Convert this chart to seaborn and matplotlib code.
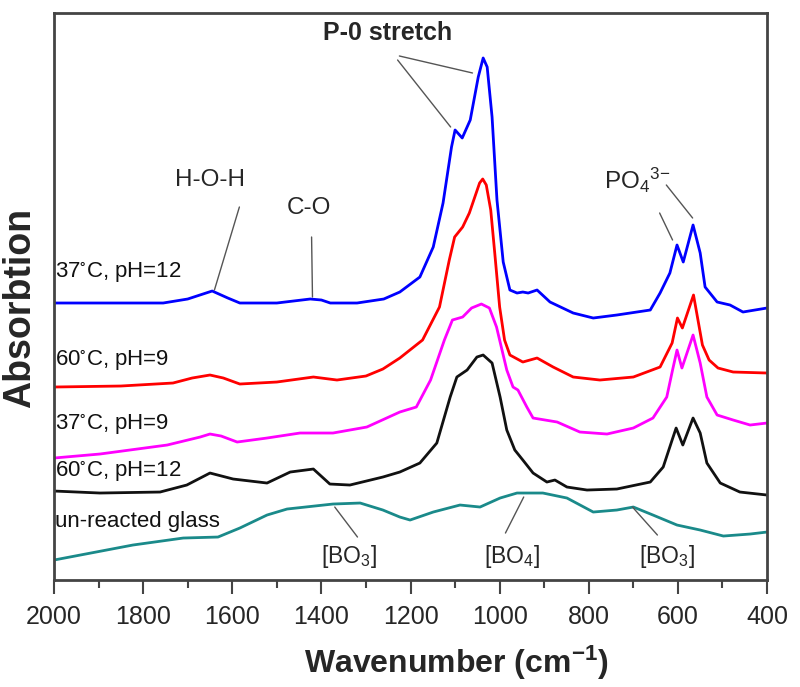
import matplotlib
matplotlib.use('Agg')
import matplotlib.pyplot as plt
import numpy as np
import pandas as pd
import seaborn as sns

# spectra (absorbance in arbitrary, already-offset units)
wn_37_12 = [2000, 1850, 1755, 1700, 1645, 1610, 1583, 1500, 1425, 1400, 1380, 1320, 1260, 1224, 1179, 1149,
            1127, 1108, 1100, 1084, 1066, 1048, 1037, 1028, 1017, 1006, 992, 977, 961, 948, 936, 916, 887,
            835, 790, 737, 662, 640, 618, 602, 588, 566, 550, 539, 512, 483, 454, 400]
ab_37_12 = [2.77, 2.77, 2.77, 2.81, 2.89, 2.82, 2.77, 2.77, 2.81, 2.80, 2.77, 2.77, 2.81, 2.88, 3.03, 3.33,
            3.77, 4.33, 4.50, 4.42, 4.60, 5.03, 5.22, 5.13, 4.63, 3.80, 3.18, 2.90, 2.87, 2.88, 2.87, 2.90, 2.78,
            2.67, 2.62, 2.65, 2.70, 2.87, 3.07, 3.35, 3.18, 3.55, 3.27, 2.93, 2.78, 2.75, 2.68, 2.72]

wn_60_9 = [2000, 1850, 1733, 1690, 1650, 1620, 1583, 1500, 1418, 1365, 1300, 1262, 1224, 1173, 1135, 1113,
           1101, 1083, 1068, 1045, 1038, 1030, 1020, 1011, 1000, 989, 977, 948, 916, 880, 835, 775, 700, 640,
           613, 601, 590, 565, 555, 545, 530, 510, 476, 400]
ab_60_9 = [1.93, 1.94, 1.97, 2.02, 2.05, 2.02, 1.96, 1.98, 2.03, 2.00, 2.04, 2.11, 2.22, 2.40, 2.73, 3.20,
           3.43, 3.53, 3.67, 3.97, 4.01, 3.95, 3.70, 3.27, 2.73, 2.40, 2.25, 2.18, 2.22, 2.13, 2.03, 2.00, 2.03, 2.13,
           2.37, 2.62, 2.52, 2.85, 2.60, 2.35, 2.20, 2.12, 2.08, 2.07]

wn_37_9 = [2000, 1897, 1746, 1672, 1650, 1625, 1589, 1522, 1448, 1374, 1298, 1224, 1187, 1155, 1124, 1106,
           1083, 1063, 1041, 1023, 1007, 984, 970, 959, 939, 925, 871, 820, 759, 700, 656, 625, 612, 602, 591,
           566, 550, 535, 512, 476, 438, 400]
ab_37_9 = [1.22, 1.26, 1.35, 1.43, 1.46, 1.44, 1.38, 1.42, 1.47, 1.47, 1.53, 1.68, 1.73, 2.00, 2.40, 2.60,
           2.63, 2.72, 2.76, 2.72, 2.53, 2.10, 1.93, 1.90, 1.73, 1.62, 1.58, 1.48, 1.46, 1.52, 1.62, 1.83, 2.10, 2.30,
           2.12, 2.45, 2.17, 1.83, 1.65, 1.60, 1.55, 1.57]

wn_60_12 = [2000, 1897, 1762, 1702, 1650, 1598, 1522, 1470, 1418, 1381, 1336, 1262, 1224, 1179, 1141, 1111,
            1096, 1073, 1051, 1037, 1017, 999, 984, 966, 948, 925, 894, 876, 849, 804, 737, 662, 633, 613, 604,
            589, 566, 550, 535, 505, 461, 400]
ab_60_12 = [0.89, 0.87, 0.88, 0.95, 1.07, 1.01, 0.97, 1.08, 1.11, 0.96, 0.95, 1.03, 1.08, 1.17, 1.37, 1.83,
            2.03, 2.10, 2.23, 2.25, 2.17, 1.83, 1.50, 1.30, 1.20, 1.07, 0.98, 1.00, 0.93, 0.90, 0.91, 0.98, 1.13,
            1.40, 1.52, 1.35, 1.62, 1.47, 1.17, 0.97, 0.88, 0.85]

wn_glass = [2000, 1823, 1710, 1632, 1583, 1522, 1477, 1374, 1313, 1262, 1224, 1201, 1149, 1089, 1044, 999,
            961, 903, 849, 790, 737, 700, 656, 602, 550, 498, 438, 400]
ab_glass = [0.20, 0.35, 0.42, 0.43, 0.52, 0.65, 0.71, 0.76, 0.77, 0.70, 0.63, 0.60, 0.68, 0.75, 0.73, 0.82,
            0.87, 0.87, 0.82, 0.68, 0.70, 0.73, 0.65, 0.55, 0.50, 0.44, 0.46, 0.48]

labels = [r'37$^{\circ}$C, pH=12', r'60$^{\circ}$C, pH=9', r'37$^{\circ}$C, pH=9',
          r'60$^{\circ}$C, pH=12', 'un-reacted glass']
colors = ['#0000ff', '#ff0000', '#ff00ff', '#111111', '#1a8a8a']
label_y = [3.08, 2.20, 1.56, 1.09, 0.59]

series = [(wn_37_12, ab_37_12), (wn_60_9, ab_60_9), (wn_37_9, ab_37_9),
          (wn_60_12, ab_60_12), (wn_glass, ab_glass)]

sns.set_style('ticks')
plt.rcParams['font.family'] = ['Liberation Sans', 'DejaVu Sans']
plt.rcParams['mathtext.default'] = 'regular'

fig = plt.figure(figsize=(8, 6.87), dpi=100)
ax = fig.add_axes([0.0675, 0.1557, 0.8913, 0.8254])

for (wn, ab), lab, col in zip(series, labels, colors):
    df = pd.DataFrame({'wn': wn, 'ab': ab})
    sns.lineplot(data=df, x='wn', y='ab', color=col, lw=2.0, sort=False, ax=ax)

ax.set_xlim(2000, 400)
ax.set_ylim(0, 5.67)

# curve labels
for lab, y in zip(labels, label_y):
    ax.text(1997, y, lab, ha='left', va='center', fontsize=16, color='#111111')

# band annotations
gray = '#555555'
def lead(x0, y0, x1, y1):
    ax.plot([x0, x1], [y0, y1], color=gray, lw=1.0)

ax.text(1252, 5.47, 'P-0 stretch', ha='center', va='center', fontsize=18, fontweight='bold')
lead(1225, 5.24, 1061, 5.07)
lead(1229, 5.20, 1110, 4.53)

ax.text(1651, 4.00, 'H-O-H', ha='center', va='center', fontsize=17.5)
lead(1584, 3.73, 1640, 2.90)

ax.text(1427, 3.72, 'C-O', ha='center', va='center', fontsize=17.5)
lead(1422, 3.43, 1420, 2.83)

ax.text(692, 4.00, r'PO$_4$$^{3{-}}$', ha='center', va='center', fontsize=17.5)
lead(626, 3.95, 567, 3.62)
lead(641, 3.67, 612, 3.40)

ax.text(1337, 0.24, r'[BO$_3$]', ha='center', va='center', fontsize=16.5)
lead(1370, 0.73, 1319, 0.43)
ax.text(973, 0.24, r'[BO$_4$]', ha='center', va='center', fontsize=16.5)
lead(946, 0.83, 987, 0.47)
ax.text(625, 0.24, r'[BO$_3$]', ha='center', va='center', fontsize=16.5)
lead(702, 0.73, 646, 0.45)

# axes styling
ax.set_xticks(np.arange(2000, 399, -200))
ax.set_xticks(np.arange(1900, 400, -200), minor=True)
ax.set_yticks([])
ax.tick_params(axis='x', which='major', length=10, width=1.5, labelsize=18, pad=8, color='#444444')
ax.tick_params(axis='x', which='minor', length=6, width=1.5, color='#444444')
for s in ax.spines.values():
    s.set_visible(True)
    s.set_color('#444444')
    s.set_linewidth(2)

ax.set_xlabel(r'Wavenumber (cm$^{-1}$)', fontsize=23, fontweight='bold')
ax.xaxis.set_label_coords(0.564, -0.112)
ax.set_ylabel('Absorbtion', fontsize=27, fontweight='bold')
ax.yaxis.set_label_coords(-0.022, 0.48)

fig.savefig('out.png', dpi=100)
